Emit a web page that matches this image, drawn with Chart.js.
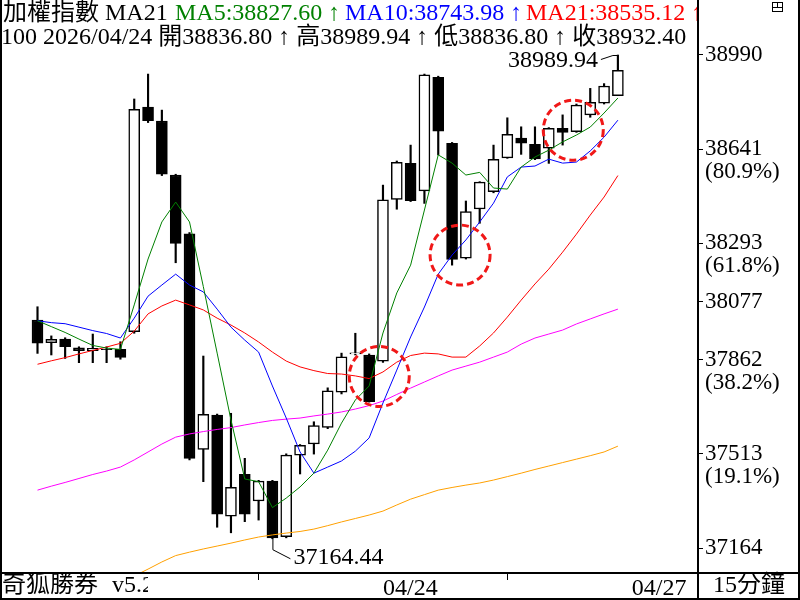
<!DOCTYPE html>
<html><head><meta charset="utf-8">
<script src="https://cdn.jsdelivr.net/npm/chart.js@4/dist/chart.umd.min.js"></script>
<style>html,body{margin:0;padding:0;background:#fff}canvas{display:block}</style>
</head><body>
<canvas id="chart" width="800" height="600"></canvas>
<script>
/* 加權指數 15分鐘K線：K棒 + MA5/10/21/60/120，右側費波納契刻度 */
const FONT = "'Liberation Serif','Noto Sans CJK TC',serif";

const opens  = [37990,37904,37918,37885,37874,37880,37879,37946,38793,38741,38537,38315,37502,37631,37250,37408,37307,37382,37172,37480,37522,37585,37718,37862,37858,37835,38445,38581,38477,38906,38657,38223,38409,38474,38602,38676,38653,38638,38713,38701,38764,38808,38836.80];
const highs  = [38040,37930,37923,37889,37937,37889,37908,38824,38918,38782,38540,38320,37854,37635,37638,37468,37385,37385,37485,37520,37606,37734,37865,37940,37862,38499,38590,38650,38918,38910,38660,38439,38512,38650,38753,38719,38719,38716,38764,38805,38864,38882,38989.94];
const lows   = [37864,37858,37845,37829,37829,37829,37842,37940,38735,38535,38206,37462,37380,37208,37187,37229,37235,37164.44,37168,37409,37484,37580,37711,37858,37680,37830,38408,38437,38430,38613,38197,38220,38355,38470,38600,38615,38595,38581,38650,38698,38755,38805,38836.80];
const closes = [37903,37917,37889,37874,37883,37878,37849,38785,38742,38540,38279,37468,37634,37257,37359,37257,37382,37168,37480,37517,37592,37723,37851,37866,37682,38443,38585,38440,38915,38703,38219,38399,38510,38596,38691,38657,38598,38713,38698,38801,38811,38873,38932.40];

const ma5   = [37987,37965,37943,37918,37894,37884,37879,38047,38220,38360,38435,38360,38116,37865,37613,37390,37380,37282,37318,37360,37412,37499,37601,37688,37741,37941,38092,38197,38405,38613,38582,38537,38547,38488,38484,38567,38605,38631,38662,38688,38718,38771,38827.60];
const ma10  = [37987,37980,37976,37963,37950,37939,37922,37997,38080,38122,38163,38122,38096,38031,37963,37914,37869,37741,37620,37492,37412,37435,37458,37495,37545,37677,37801,37926,38039,38163,38235,38292,38360,38431,38530,38567,38571,38597,38582,38586,38628,38680,38743.98];
const ma21  = [37823,37836,37848,37862,37875,37888,37902,37948,38013,38043,38065,38047,38028,37997,37971,37941,37907,37869,37835,37813,37799,37788,37786,37779,37769,37794,37831,37856,37865,37862,37850,37850,37892,37941,38001,38065,38126,38182,38246,38314,38386,38454,38535.12];
const ma60  = [37348,37363,37377,37392,37407,37420,37435,37462,37492,37522,37548,37560,37569,37577,37584,37594,37603,37611,37616,37620,37628,37635,37643,37654,37667,37684,37709,37733,37756,37779,37801,37816,37831,37850,37869,37899,37922,37937,37952,37975,37994,38013,38031];
const ma120 = [null,null,null,null,null,null,36997,37024,37050,37077,37101,37114,37126,37137,37148,37160,37171,37179,37186,37192,37201,37214,37228,37241,37254,37269,37292,37314,37331,37348,37358,37367,37375,37386,37399,37412,37426,37439,37452,37465,37478,37492,37514];

const yTicks   = [38990,38641,38293,38077,37862,37513,37164];
const yTickPct = ["","(80.9%)","(61.8%)","","(38.2%)","(19.1%)",""];
const dateTicks  = [25,43];
const dateLabels = ["04/24","04/27"];
const circles = [{x:24.73,y:37777},{x:30.58,y:38235},{x:38.77,y:38706}];
const hiMark = {i:42, v:38989.94, text:"38989.94"};
const loMark = {i:17, v:37164.44, text:"37164.44"};
const head1 = [["加權指數 MA21","#000000"],["MA5:38827.60 ↑","#008000"],["MA10:38743.98 ↑","#0000ff"],["MA21:38535.12 ↑","#ff0000"]];
const head2 = "100 2026/04/24 開38836.80 ↑ 高38989.94 ↑ 低38836.80 ↑ 收38932.40";

const idx = opens.map((_,i)=>i);
const bodies = idx.map(i=>({x:i, y:[opens[i], closes[i]]}));
const wicks  = idx.map(i=>({x:i, y:[lows[i], highs[i]]}));
const bodyFill = idx.map(i=> closes[i] >= opens[i] ? "#ffffff" : "#000000");
const line = (arr)=> arr.map((v,i)=>({x:i,y:v})).filter(p=>p.y!=null);
const maDs = (label, arr, color)=>({ type:"line", label, data:line(arr), borderColor:color, borderWidth:1,
  pointRadius:0, tension:0, order:0, fill:false });

const HEAD_X = [3,175,345,526];

const deco = {
  id:"deco",
  afterDatasetsDraw(chart){
    const { ctx, scales:{x,y} } = chart;
    ctx.save();
    // 紅色虛線圈
    ctx.strokeStyle="#f01818"; ctx.lineWidth=3; ctx.setLineDash([7,4]);
    circles.forEach(c=>{ ctx.beginPath(); ctx.arc(x.getPixelForValue(c.x), y.getPixelForValue(c.y), 30, 0, Math.PI*2); ctx.stroke(); });
    ctx.setLineDash([]);
    // 最高/最低標示
    ctx.strokeStyle="#000"; ctx.lineWidth=1; ctx.fillStyle="#000";
    ctx.font="24px "+FONT; ctx.textBaseline="middle";
    let cx=x.getPixelForValue(hiMark.i), cy=y.getPixelForValue(hiMark.v);
    ctx.beginPath(); ctx.moveTo(cx,cy+0.5); ctx.lineTo(cx-5,cy+0.5); ctx.lineTo(cx-17,cy+4.5); ctx.stroke();
    ctx.textAlign="right"; ctx.fillText(hiMark.text, cx-20, cy+6);
    cx=x.getPixelForValue(loMark.i); cy=y.getPixelForValue(loMark.v);
    ctx.beginPath(); ctx.moveTo(cx+0.5,cy); ctx.lineTo(cx+0.5,cy+11); ctx.lineTo(cx+18,cy+20); ctx.stroke();
    ctx.textAlign="left"; ctx.fillText(loMark.text, cx+21, cy+19);
    ctx.restore();
  },
  afterDraw(chart){
    const { ctx, scales:{yLab} } = chart;
    ctx.save();
    ctx.textBaseline="middle"; ctx.textAlign="left";
    // 右側百分比
    ctx.font="23px "+FONT; ctx.fillStyle="#000";
    yTicks.forEach((v,k)=>{ if(yTickPct[k]) ctx.fillText(yTickPct[k], 705, yLab.getPixelForValue(v)+23); });
    // 標頭
    ctx.save();
    ctx.beginPath(); ctx.rect(0,0,697,60); ctx.clip();
    ctx.font="24px "+FONT;
    head1.forEach(([t,c],k)=>{ ctx.fillStyle=c; ctx.fillText(t,HEAD_X[k],14); });
    ctx.fillStyle="#000"; ctx.fillText(head2,1,38);
    ctx.restore();
    // 底列文字
    ctx.save();
    ctx.beginPath(); ctx.rect(0,574,148,24); ctx.clip();
    ctx.font="24px "+FONT; ctx.fillStyle="#000";
    ctx.fillText("奇狐勝券",2,586); ctx.fillText("v5.2",112,586);
    ctx.restore();
    ctx.font="24px "+FONT; ctx.textAlign="center"; ctx.fillText("15分鐘",749,586);
    // 外框
    ctx.fillStyle="#000";
    ctx.fillRect(0,0,2,600); ctx.fillRect(798,0,2,600); ctx.fillRect(0,598,800,2);
    ctx.fillRect(697,0,2,600); ctx.fillRect(0,572,800,2);
    ctx.strokeStyle="#000"; ctx.lineWidth=1;
    ctx.strokeRect(772.5,2.5,10,9);
    ctx.beginPath(); ctx.moveTo(772.5,7.5); ctx.lineTo(782.5,7.5); ctx.moveTo(777.5,2.5); ctx.lineTo(777.5,7.5); ctx.stroke();
    ctx.restore();
  }
};

Chart.defaults.font.family = FONT;
Chart.defaults.color = "#000";

new Chart(document.getElementById("chart"), {
  type:"bar",
  data:{ datasets:[
    maDs("MA5", ma5, "#008000"),
    maDs("MA10", ma10, "#0000ff"),
    maDs("MA21", ma21, "#ff0000"),
    maDs("MA60", ma60, "#ff00ff"),
    maDs("MA120", ma120, "#ffa000"),
    { label:"body", data:bodies, backgroundColor:bodyFill, borderColor:"#000", borderWidth:1.5,
      borderSkipped:false, barThickness:11, grouped:false, order:1 },
    { label:"wick", data:wicks, backgroundColor:"#000", borderWidth:0,
      barThickness:1.5, grouped:false, order:2 }
  ]},
  options:{
    responsive:false, animation:false, events:[],
    layout:{ padding:{ left:2, top:0, right:0, bottom:0 } },
    plugins:{ legend:{display:false}, tooltip:{enabled:false} },
    scales:{
      x:{ type:"linear", offset:false, min:-2.569, max:47.797,
        afterBuildTicks:(s)=>{ s.ticks = dateTicks.map(v=>({value:v})); },
        afterFit:(s)=>{ s.height = 27; s.paddingLeft = 0; s.paddingRight = 0; },
        grid:{ drawOnChartArea:false, drawTicks:true, tickLength:7, color:"#000" },
        border:{ display:false },
        ticks:{ font:{size:24}, align:"start", padding:-6, maxRotation:0, autoSkip:false,
          callback:(v)=>{ const k=dateTicks.indexOf(v); return k<0?"":dateLabels[k]; } } },
      // 價格座標（K棒與均線）
      y:{ display:false, min:37035.3, max:39197.5 },
      // 右側刻度欄
      yLab:{ position:"right", min:37071.5, max:39193.7,
        afterBuildTicks:(s)=>{ s.ticks = yTicks.map(v=>({value:v})); },
        afterFit:(s)=>{ s.width = 102; s.paddingTop = 0; s.paddingBottom = 0; },
        grid:{ drawOnChartArea:false, drawTicks:true, tickLength:5, color:"#000" },
        border:{ display:false },
        ticks:{ font:{size:23}, padding:2, crossAlign:"near", callback:(v)=>String(v) } }
    }
  },
  plugins:[deco]
});
</script>
</body></html>
